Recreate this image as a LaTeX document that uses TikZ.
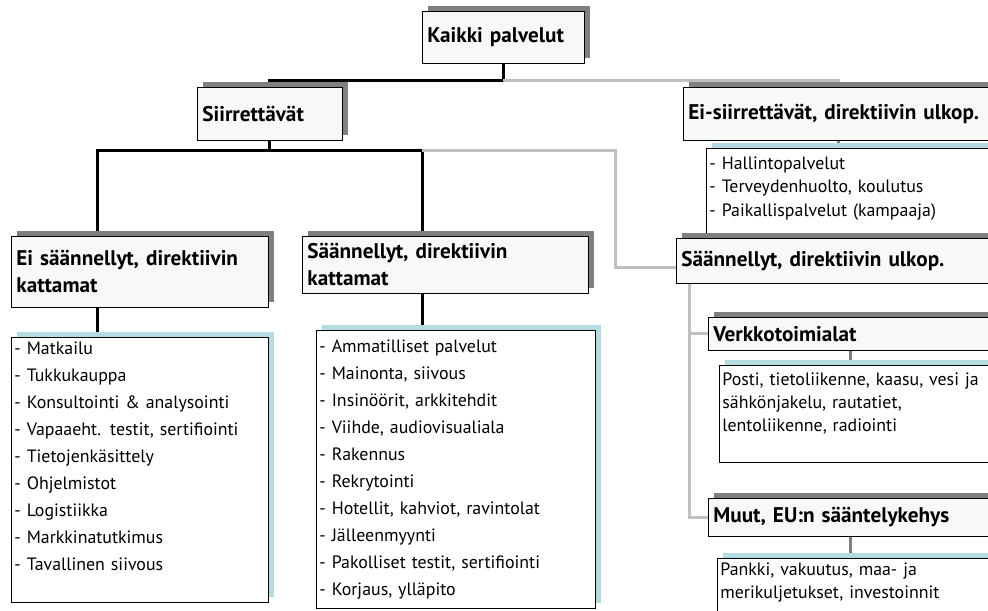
\documentclass[tikz,border=0pt]{standalone}
\usepackage{fontspec}
\setmainfont{PT Sans}
\usetikzlibrary{shadows, backgrounds}

\definecolor{hdrfill}{HTML}{F8F8F8}
\definecolor{hdrshadow}{HTML}{808080}
\definecolor{lstcyan}{HTML}{B4DCE0}
\definecolor{linegray}{HTML}{C0C0C0}
\definecolor{stubgray}{HTML}{7F7F7F}

\tikzset{
    hdr/.style={draw, line width=0.6pt, fill=hdrfill, anchor=north west, align=left,
        inner xsep=3.75pt, inner ysep=0pt,
        font=\fontsize{15.9}{20.25}\selectfont\bfseries,
        drop shadow={shadow xshift=4.5pt, shadow yshift=3.75pt, fill=hdrshadow, opacity=1}},
    lst/.style={draw, line width=0.6pt, fill=white, anchor=north west, align=left,
        inner xsep=2.25pt, inner ysep=0pt,
        font=\fontsize{13.4}{20.25}\selectfont,
        drop shadow={shadow xshift=4.5pt, shadow yshift=3.75pt, fill=lstcyan, opacity=1}},
    lstsmall/.style={lst, font=\fontsize{13.4}{17.6}\selectfont},
    blk/.style={line width=2.25pt, black},
    lgr/.style={line width=2.25pt, linegray},
    dgr/.style={line width=2pt, stubgray},
}

\begin{document}
\begin{tikzpicture}[x=0.75pt, y=-0.75pt]
    \useasboundingbox (0, 0) rectangle (988, 610);

    % top level
    \node[hdr, text width=114pt, minimum height=39pt] (top) at (422, 11){Kaikki palvelut};
    \node[hdr, text width=101.25pt, minimum height=39.75pt] (siir) at (197, 87){Siirrettävät};
    \node[hdr, text width=225pt, minimum height=39.75pt] (eiS) at (683, 87){Ei-siirrettävät, direktiivin ulkop.};

    % siirrettavat
    \node[hdr, text width=185.25pt, minimum height=53.25pt] (eiSa) at (11, 236){Ei säännellyt, direktiivin\\kattamat};
    \node[hdr, text width=207pt, minimum height=42.75pt] (sKat) at (302, 236){Säännellyt, direktiivin\\kattamat};

    \node[lst, text width=188.25pt, minimum height=198.75pt] (lstA) at (11, 337){%
        - Matkailu\\
        - Tukkukauppa\\
        - Konsultointi \& analysointi\\
        - Vapaaeht. testit, sertifiointi\\
        - Tietojenkäsittely\\
        - Ohjelmistot\\
        - Logistiikka\\
        - Markkinatutkimus\\
        - Tavallinen siivous\\
        \mbox{}};
    \node[lst, text width=204.75pt, minimum height=208.5pt] (lstB) at (316, 330){%
        - Ammatilliset palvelut\\
        - Mainonta, siivous\\
        - Insinöörit, arkkitehdit\\
        - Viihde, audiovisualiala\\
        - Rakennus\\
        - Rekrytointi\\
        - Hotellit, kahviot, ravintolat\\
        - Jälleenmyynti\\
        - Pakolliset testit, sertifiointi\\
        - Korjaus, ylläpito};

    % ei-siirrettavat
    \node[lstsmall, text width=220.5pt, minimum height=75pt] (lstC) at (706, 148){%
        - Hallintopalvelut\\
        - Terveydenhuolto, koulutus\\
        - Paikallispalvelut (kampaaja)\\
        \mbox{}};
    \node[hdr, text width=240pt, minimum height=33.75pt] (rUlk) at (676, 238){Säännellyt, direktiivin ulkop.};

    \node[hdr, text width=205.5pt, minimum height=24.75pt] (verk) at (708, 317){Verkkotoimialat};
    \node[lstsmall, text width=213pt, minimum height=72.75pt] (lstD) at (719, 365){%
        Posti, tietoliikenne, kaasu, vesi ja\\
        sähkönjakelu, rautatiet,\\
        lentoliikenne, radiointi\\
        \mbox{}};

    \node[hdr, text width=205.5pt, minimum height=28.5pt] (muut) at (708, 498){Muut, EU:n sääntelykehys};
    \node[lstsmall, text width=213pt, minimum height=51pt] (lstE) at (717, 558){%
        Pankki, vakuutus, maa- ja\\
        merikuljetukset, investoinnit\\
        \mbox{}};

    % connectors
    \begin{scope}[on background layer]
        \draw[blk] (top.south) -- ++(0, 17) coordinate (kA) -| (siir.north);
        \draw[lgr] (kA) -| (eiS.north);
        \draw[dgr] (eiS.south) -- (eiS.south |- lstC.north);

        \draw[blk] (siir.south) -- ++(0, 10) coordinate (kB);
        \draw[blk] (kB) -| ([xshift=-31.5pt]eiSa.north);
        \draw[blk] (kB) -| ([xshift=-17.25pt]sKat.north);
        \draw[blk] ([xshift=-31.5pt]eiSa.south) -- ([xshift=-31.5pt]eiSa.south |- lstA.north);
        \draw[blk] ([xshift=-17.25pt]sKat.south) -- ([xshift=-17.25pt]sKat.south |- lstB.north);
        \draw[lgr] ([xshift=-17.25pt]sKat.north |- kB) -- ++(193, 0) |- ([yshift=-4.9pt]rUlk.west);

        \draw[lgr] ([xshift=9.75pt]rUlk.south west) |- (verk.west);
        \draw[lgr] ([xshift=9.75pt]rUlk.south west) |- (muut.west);
        \draw[dgr] (verk.south) -- (verk.south |- lstD.north);
        \draw[dgr] (muut.south) -- (muut.south |- lstE.north);
    \end{scope}
\end{tikzpicture}
\end{document}
